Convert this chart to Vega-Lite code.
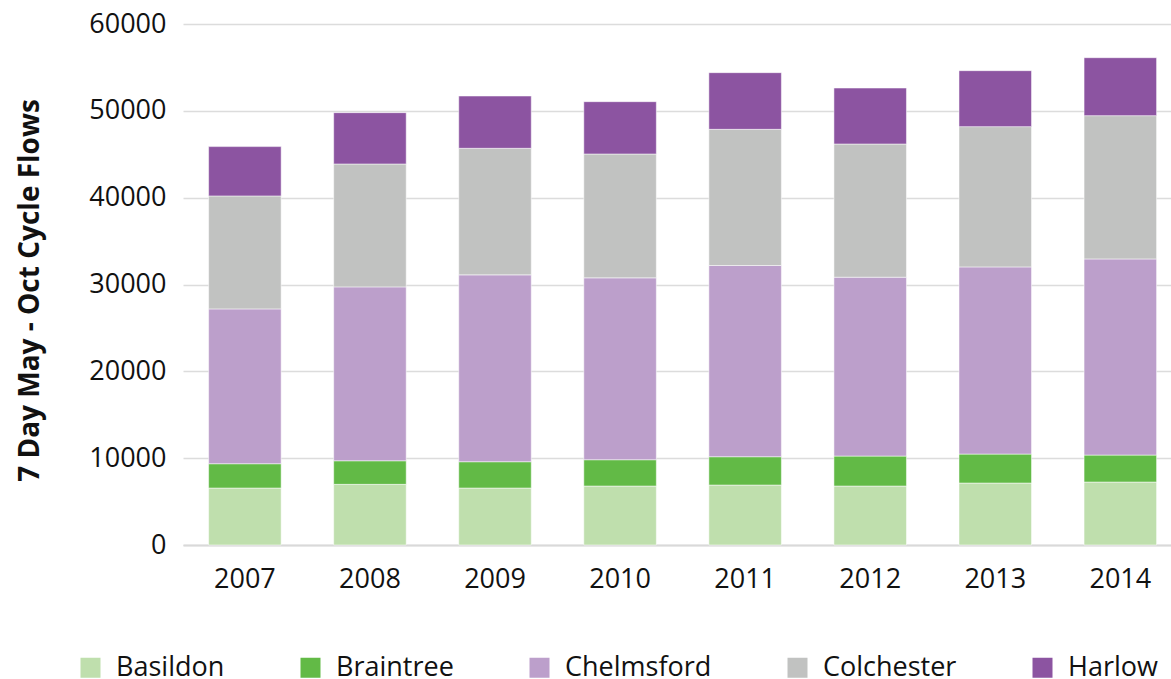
{
  "$schema": "https://vega.github.io/schema/vega-lite/v6.json",
  "autosize": "none",
  "width": 988,
  "height": 521,
  "padding": {"left": 183, "top": 24, "right": 0, "bottom": 134},
  "background": "#ffffff",
  "config": {
    "view": {"stroke": null},
    "font": "Open Sans",
    "axis": {"labelFont": "Open Sans", "titleFont": "Open Sans", "labelColor": "#111111", "titleColor": "#111111"},
    "legend": {"labelFont": "Open Sans"}
  },
  "data": {
    "values": [
      {"year": "2007", "area": "Basildon", "flows": 6560},
      {"year": "2007", "area": "Braintree", "flows": 2800},
      {"year": "2007", "area": "Chelmsford", "flows": 17830},
      {"year": "2007", "area": "Colchester", "flows": 13010},
      {"year": "2007", "area": "Harlow", "flows": 5680},
      {"year": "2008", "area": "Basildon", "flows": 6985},
      {"year": "2008", "area": "Braintree", "flows": 2715},
      {"year": "2008", "area": "Chelmsford", "flows": 20025},
      {"year": "2008", "area": "Colchester", "flows": 14155},
      {"year": "2008", "area": "Harlow", "flows": 5910},
      {"year": "2009", "area": "Basildon", "flows": 6560},
      {"year": "2009", "area": "Braintree", "flows": 3030},
      {"year": "2009", "area": "Chelmsford", "flows": 21520},
      {"year": "2009", "area": "Colchester", "flows": 14575},
      {"year": "2009", "area": "Harlow", "flows": 6020},
      {"year": "2010", "area": "Basildon", "flows": 6790},
      {"year": "2010", "area": "Braintree", "flows": 3030},
      {"year": "2010", "area": "Chelmsford", "flows": 20945},
      {"year": "2010", "area": "Colchester", "flows": 14265},
      {"year": "2010", "area": "Harlow", "flows": 6025},
      {"year": "2011", "area": "Basildon", "flows": 6905},
      {"year": "2011", "area": "Braintree", "flows": 3260},
      {"year": "2011", "area": "Chelmsford", "flows": 22020},
      {"year": "2011", "area": "Colchester", "flows": 15685},
      {"year": "2011", "area": "Harlow", "flows": 6525},
      {"year": "2012", "area": "Basildon", "flows": 6790},
      {"year": "2012", "area": "Braintree", "flows": 3450},
      {"year": "2012", "area": "Chelmsford", "flows": 20600},
      {"year": "2012", "area": "Colchester", "flows": 15340},
      {"year": "2012", "area": "Harlow", "flows": 6445},
      {"year": "2013", "area": "Basildon", "flows": 7135},
      {"year": "2013", "area": "Braintree", "flows": 3335},
      {"year": "2013", "area": "Chelmsford", "flows": 21555},
      {"year": "2013", "area": "Colchester", "flows": 16155},
      {"year": "2013", "area": "Harlow", "flows": 6445},
      {"year": "2014", "area": "Basildon", "flows": 7250},
      {"year": "2014", "area": "Braintree", "flows": 3105},
      {"year": "2014", "area": "Chelmsford", "flows": 22590},
      {"year": "2014", "area": "Colchester", "flows": 16500},
      {"year": "2014", "area": "Harlow", "flows": 6675}
    ]
  },
  "mark": {"type": "bar", "stroke": "#ffffff", "strokeWidth": 1, "strokeOpacity": 0.5},
  "encoding": {
    "x": {
      "field": "year",
      "type": "ordinal",
      "scale": {"paddingInner": 0.42, "paddingOuter": 0.16, "align": 0.64},
      "axis": {
        "title": null,
        "labelAngle": 0,
        "labelFontSize": 27,
        "labelPadding": 21,
        "ticks": false,
        "domainColor": "#d9d9d9",
        "domainWidth": 2
      }
    },
    "y": {
      "field": "flows",
      "type": "quantitative",
      "aggregate": "sum",
      "stack": "zero",
      "scale": {"domain": [0, 60000], "nice": false},
      "axis": {
        "title": "7 Day May - Oct Cycle Flows",
        "titleFontSize": 28,
        "titleFontWeight": "bold",
        "titleAngle": -90,
        "titleX": -153,
        "titleY": 266,
        "titleAlign": "center",
        "titleBaseline": "middle",
        "values": [0, 10000, 20000, 30000, 40000, 50000, 60000],
        "format": "d",
        "labelFontSize": 27,
        "labelPadding": 17,
        "ticks": false,
        "domain": false,
        "gridColor": "#dcdcdc",
        "gridWidth": 1.5
      }
    },
    "color": {
      "field": "area",
      "type": "nominal",
      "scale": {
        "domain": ["Basildon", "Braintree", "Chelmsford", "Colchester", "Harlow"],
        "range": ["#bfdfad", "#62ba46", "#bc9fcb", "#c1c2c1", "#8c54a1"]
      },
      "legend": {
        "title": null,
        "orient": "none",
        "direction": "horizontal",
        "legendX": -106,
        "legendY": 630,
        "symbolType": "square",
        "symbolSize": 400,
        "symbolStrokeWidth": 0,
        "labelFontSize": 27,
        "labelOffset": 12,
        "labelColor": "#111111",
        "columnPadding": 72
      }
    },
    "order": {"field": "area", "sort": "ascending"}
  }
}
